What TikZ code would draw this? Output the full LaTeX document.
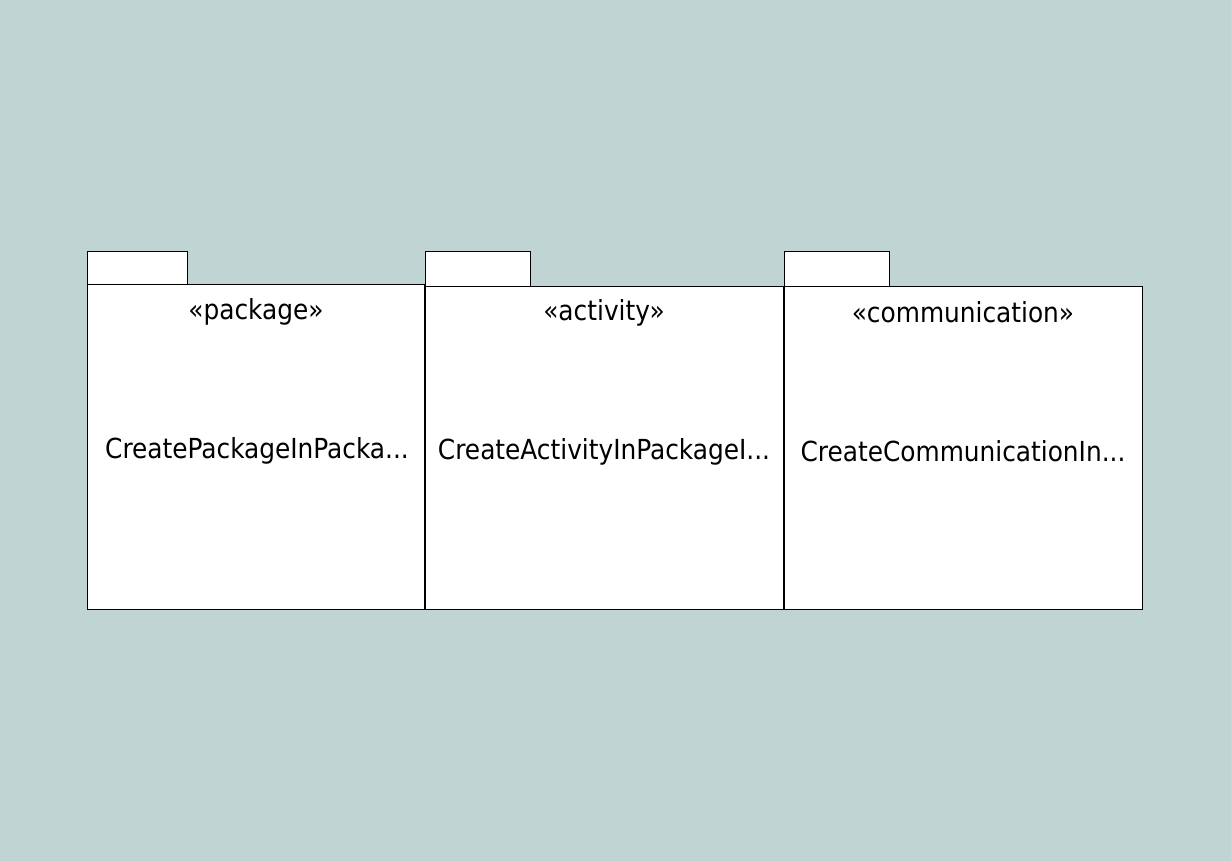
\documentclass[tikz,border=0pt]{standalone}
\usepackage{fontspec}
\setmainfont{DejaVu Sans Condensed}
\definecolor{bgteal}{HTML}{BFD4D3}

\begin{document}
\begin{tikzpicture}[x=1pt, y=-1pt,
    tab/.style={draw, fill=white, line width=1pt, anchor=north west, inner sep=0pt},
    body/.style={draw, fill=white, line width=1pt, anchor=north west, inner sep=0pt},
    label/.style={inner sep=0pt, font=\fontsize{27.6}{30}\selectfont}]
    \fill[bgteal] (0,0) rectangle (1231,861);

    \node[tab, minimum width=100pt, minimum height=33pt] (T1) at (87,251) {};
    \node[body, minimum width=337pt, minimum height=325pt] (P1) at (87,284) {};
    \node[tab, minimum width=105pt, minimum height=35pt] (T2) at (425,251) {};
    \node[body, minimum width=358pt, minimum height=323pt] (P2) at (425,286) {};
    \node[tab, minimum width=105pt, minimum height=35pt] (T3) at (784,251) {};
    \node[body, minimum width=358pt, minimum height=323pt] (P3) at (784,286) {};

    \node[label] (S1) at (256,312) {«package»};
    \node[label] (N1) at (257,451) {CreatePackageInPacka...};
    \node[label] (S2) at (604,313) {«activity»};
    \node[label] (N2) at (604,452) {CreateActivityInPackageI...};
    \node[label] (S3) at (963,312) {«communication»};
    \node[label] (N3) at (963,451) {CreateCommunicationIn...};
\end{tikzpicture}
\end{document}
